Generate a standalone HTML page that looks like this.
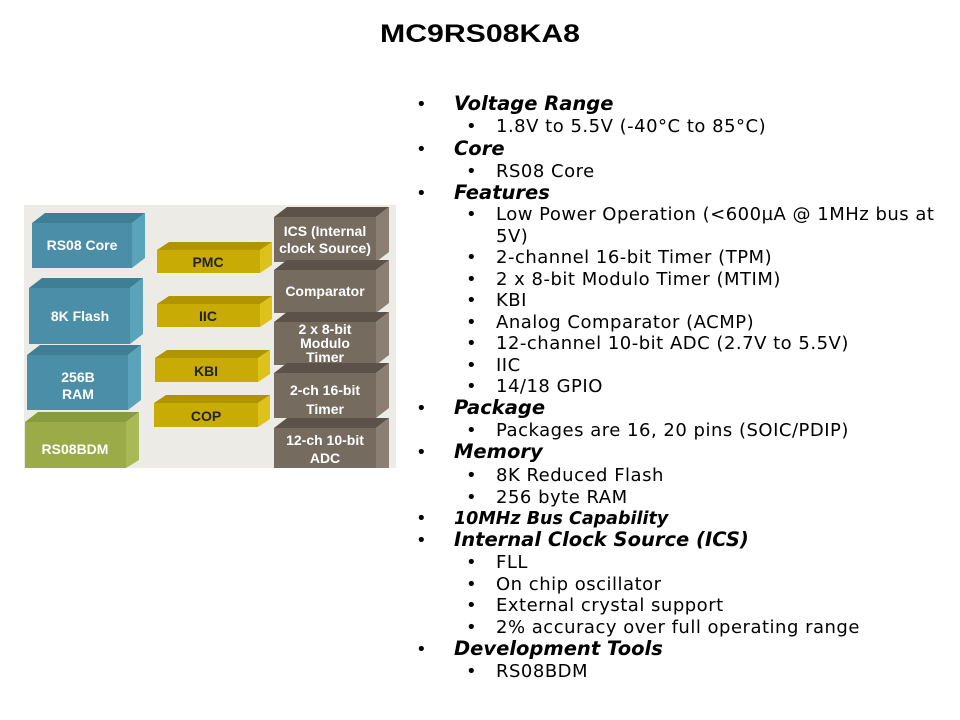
<!DOCTYPE html>
<html><head><meta charset="utf-8"><style>
html,body{margin:0;padding:0;background:#fff;}
svg{display:block}
.t{font-family:"DejaVu Sans","Liberation Sans",sans-serif;font-size:18px;letter-spacing:0.5px;fill:#000}
.h{font-family:"DejaVu Sans","Liberation Sans",sans-serif;font-size:19.5px;font-weight:bold;font-style:italic;fill:#000}
.b{font-family:"Liberation Sans",sans-serif;font-weight:bold;font-size:14px;text-anchor:middle}
</style></head><body>
<svg width="960" height="720" viewBox="0 0 960 720" xmlns="http://www.w3.org/2000/svg">
<text x="380" y="42" textLength="200" lengthAdjust="spacingAndGlyphs" font-family="Liberation Sans,sans-serif" font-weight="bold" font-size="25" fill="#000">MC9RS08KA8</text>
<rect x="24" y="205" width="372" height="263" fill="#ecebe6"/>
<g>
<polygon points="32,223 45,213 145,213 132,223" fill="#3f7f95"/><polygon points="132,223 145,213 145,258 132,268" fill="#5aa3bb"/><rect x="32" y="223" width="100" height="45" fill="#4a8fa7"/>
<text class="b" x="82" y="250" fill="#fff">RS08 Core</text>
<polygon points="29,288 42,278 143,278 130,288" fill="#3f7f95"/><polygon points="130,288 143,278 143,334 130,344" fill="#5aa3bb"/><rect x="29" y="288" width="101" height="56" fill="#4a8fa7"/>
<text class="b" x="80" y="321" fill="#fff">8K Flash</text>
<polygon points="27,355 40,345 141,345 128,355" fill="#3f7f95"/><polygon points="128,355 141,345 141,400 128,410" fill="#5aa3bb"/><rect x="27" y="355" width="101" height="55" fill="#4a8fa7"/>
<text class="b" x="78" y="382" fill="#fff">256B</text><text class="b" x="78" y="399" fill="#fff">RAM</text>
<polygon points="25,422 38,412 139,412 126,422" fill="#8a9a3e"/><polygon points="126,422 139,412 139,460 126,468" fill="#a9b955"/><rect x="25" y="422" width="101" height="46" fill="#9aab48"/>
<text class="b" x="75" y="454" fill="#fff">RS08BDM</text>
</g>
<g>
<polygon points="157,250 169,242 272,242 260,250" fill="#b09500"/><polygon points="260,250 272,242 272,265 260,273" fill="#dcc21a"/><rect x="157" y="250" width="103" height="23" fill="#c9ab06"/>
<text class="b" x="208" y="267" fill="#222">PMC</text>
<polygon points="157,304 169,296 272,296 260,304" fill="#b09500"/><polygon points="260,304 272,296 272,319 260,327" fill="#dcc21a"/><rect x="157" y="304" width="103" height="23" fill="#c9ab06"/>
<text class="b" x="208" y="321" fill="#222">IIC</text>
<polygon points="155,358 167,350 270,350 258,358" fill="#b09500"/><polygon points="258,358 270,350 270,374 258,382" fill="#dcc21a"/><rect x="155" y="358" width="103" height="24" fill="#c9ab06"/>
<text class="b" x="206" y="376" fill="#222">KBI</text>
<polygon points="154,403 166,395 270,395 258,403" fill="#b09500"/><polygon points="258,403 270,395 270,419 258,427" fill="#dcc21a"/><rect x="154" y="403" width="104" height="24" fill="#c9ab06"/>
<text class="b" x="206" y="421" fill="#222">COP</text>
</g>
<g fill="#fff">
<polygon points="274,217 287,207 389,207 376,217" fill="#5d5249"/><polygon points="376,217 389,207 389,252 376,262" fill="#8a7f72"/><rect x="274" y="217" width="102" height="45" fill="#766b5f"/>
<text class="b" x="325" y="236">ICS (Internal</text><text class="b" x="325" y="253">clock Source)</text>
<polygon points="274,270 287,260 389,260 376,270" fill="#5d5249"/><polygon points="376,270 389,260 389,303 376,313" fill="#8a7f72"/><rect x="274" y="270" width="102" height="43" fill="#766b5f"/>
<text class="b" x="325" y="296">Comparator</text>
<polygon points="274,322 287,312 389,312 376,322" fill="#5d5249"/><polygon points="376,322 389,312 389,355 376,365" fill="#8a7f72"/><rect x="274" y="322" width="102" height="43" fill="#766b5f"/>
<text class="b" x="325" y="334">2 x 8-bit</text><text class="b" x="325" y="348">Modulo</text><text class="b" x="325" y="362">Timer</text>
<polygon points="274,373 287,363 389,363 376,373" fill="#5d5249"/><polygon points="376,373 389,363 389,408 376,418" fill="#8a7f72"/><rect x="274" y="373" width="102" height="45" fill="#766b5f"/>
<text class="b" x="325" y="395">2-ch 16-bit</text><text class="b" x="325" y="414">Timer</text>
<polygon points="274,428 287,418 389,418 376,428" fill="#5d5249"/><polygon points="376,428 389,418 389,468 376,468" fill="#8a7f72"/><rect x="274" y="428" width="102" height="40" fill="#766b5f"/>
<text class="b" x="325" y="445">12-ch 10-bit</text><text class="b" x="325" y="463">ADC</text>
</g>
<g>
<text class="t" x="416" y="110">•</text><text class="h" x="454" y="110">Voltage Range</text>
<text class="t" x="466" y="132">•</text><text class="t" x="496" y="132">1.8V to 5.5V (-40°C to 85°C)</text>
<text class="t" x="416" y="155">•</text><text class="h" x="454" y="155">Core</text>
<text class="t" x="466" y="177">•</text><text class="t" x="496" y="177">RS08 Core</text>
<text class="t" x="416" y="199">•</text><text class="h" x="454" y="199">Features</text>
<text class="t" x="466" y="220">•</text><text class="t" x="496" y="220">Low Power Operation (&lt;600µA @ 1MHz bus at</text>
<text class="t" x="496" y="242">5V)</text>
<text class="t" x="466" y="263">•</text><text class="t" x="496" y="263">2-channel 16-bit Timer (TPM)</text>
<text class="t" x="466" y="285">•</text><text class="t" x="496" y="285">2 x 8-bit Modulo Timer (MTIM)</text>
<text class="t" x="466" y="306">•</text><text class="t" x="496" y="306">KBI</text>
<text class="t" x="466" y="328">•</text><text class="t" x="496" y="328">Analog Comparator (ACMP)</text>
<text class="t" x="466" y="349">•</text><text class="t" x="496" y="349">12-channel 10-bit ADC (2.7V to 5.5V)</text>
<text class="t" x="466" y="371">•</text><text class="t" x="496" y="371">IIC</text>
<text class="t" x="466" y="392">•</text><text class="t" x="496" y="392">14/18 GPIO</text>
<text class="t" x="416" y="414">•</text><text class="h" x="454" y="414">Package</text>
<text class="t" x="466" y="436">•</text><text class="t" x="496" y="436">Packages are 16, 20 pins (SOIC/PDIP)</text>
<text class="t" x="416" y="458">•</text><text class="h" x="454" y="458">Memory</text>
<text class="t" x="466" y="481">•</text><text class="t" x="496" y="481">8K Reduced Flash</text>
<text class="t" x="466" y="503">•</text><text class="t" x="496" y="503">256 byte RAM</text>
<text class="t" x="416" y="524">•</text><text class="h" x="454" y="524" style="font-size:17.5px">10MHz Bus Capability</text>
<text class="t" x="416" y="546">•</text><text class="h" x="454" y="546">Internal Clock Source (ICS)</text>
<text class="t" x="466" y="568">•</text><text class="t" x="496" y="568">FLL</text>
<text class="t" x="466" y="590">•</text><text class="t" x="496" y="590">On chip oscillator</text>
<text class="t" x="466" y="611">•</text><text class="t" x="496" y="611">External crystal support</text>
<text class="t" x="466" y="633">•</text><text class="t" x="496" y="633">2% accuracy over full operating range</text>
<text class="t" x="416" y="655">•</text><text class="h" x="454" y="655">Development Tools</text>
<text class="t" x="466" y="677">•</text><text class="t" x="496" y="677">RS08BDM</text>
</g>
</svg>
</body></html>
